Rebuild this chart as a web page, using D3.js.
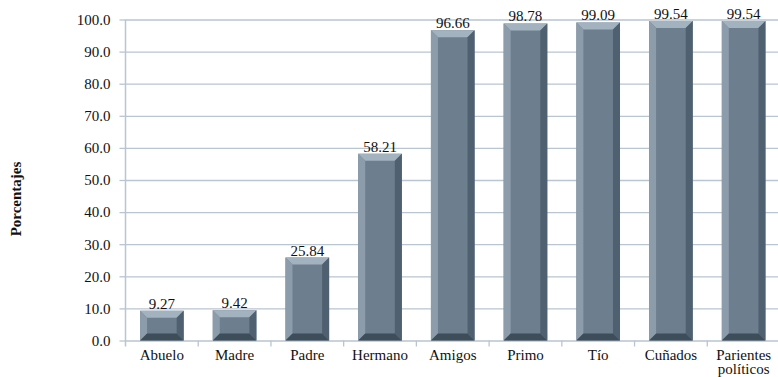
<!DOCTYPE html>
<html>
<head>
<meta charset="utf-8">
<script src="https://cdn.jsdelivr.net/npm/d3@7"></script>
<style>
  body { margin: 0; background: #fff; }
  svg text { font-family: "Liberation Serif", "Times New Roman", serif !important; fill: #111; }
</style>
</head>
<body>
<script>
// Chart data
const categories = ["Abuelo", "Madre", "Padre", "Hermano", "Amigos", "Primo", "Tío", "Cuñados", "Parientes políticos"];
const values = [9.27, 9.42, 25.84, 58.21, 96.66, 98.78, 99.09, 99.54, 99.54];
const yTicks = [0, 10, 20, 30, 40, 50, 60, 70, 80, 90, 100];
const yTitle = "Porcentajes";

// Size and padding
const width = 778;
const height = 377;
const paddingLeft = 125.5;
const paddingRight = -2;
const paddingTop = 19.5;
const paddingBottom = 36.5;

const svg = d3.select("body").append("svg")
    .attr("width", width)
    .attr("height", height)
    .attr("viewBox", [0, 0, width, height]);

// Scales
let xScale = d3.scaleBand()
    .domain(categories)
    .range([paddingLeft, width - paddingRight])
    .paddingInner(0.4)
    .paddingOuter(0.2);
let yScale = d3.scaleLinear()
    .domain([0, 100])
    .range([height - paddingBottom, paddingTop]);

const gridColor = "#b9c5d1";

// Horizontal grid lines with labels
let yAxis = d3.axisLeft(yScale)
    .tickValues(yTicks)
    .tickFormat(d3.format(".1f"))
    .tickSize(6)
    .tickPadding(9);
let yAxisRef = svg.append("g")
    .attr("transform", `translate(${paddingLeft}, 0)`)
    .call(yAxis);
yAxisRef.select(".domain").remove();
yAxisRef.selectAll(".tick line").attr("stroke", gridColor).attr("stroke-width", 1.3);
yAxisRef.selectAll(".tick line")
    .clone()
    .attr("x1", 0)
    .attr("x2", width - paddingLeft);
yAxisRef.selectAll(".tick text").style("font-size", "15px");

// Vertical axis line
svg.append("line")
    .attr("x1", paddingLeft).attr("x2", paddingLeft)
    .attr("y1", yScale(100)).attr("y2", yScale(0) + 6)
    .attr("stroke", gridColor).attr("stroke-width", 1.5);

// Category boundary ticks under the axis
const step = xScale.step();
svg.append("g")
    .selectAll("line")
    .data(categories.slice(1))
    .join("line")
    .attr("x1", d => xScale(d) - step * 0.2)
    .attr("x2", d => xScale(d) - step * 0.2)
    .attr("y1", yScale(0))
    .attr("y2", yScale(0) + 6)
    .attr("stroke", gridColor).attr("stroke-width", 1.3);

// Bevelled bars
const bev = 7;
const faces = [
    {name: "face", fill: "#6d7e8e"},
    {name: "top", fill: "#a3b2bf"},
    {name: "left", fill: "#8c9cab"},
    {name: "right", fill: "#4f6070"},
    {name: "bottom", fill: "#3e4d5a"}
];

function facePoints(name, x0, x1, y0, y1) {
    const b = Math.min(bev, (y1 - y0) / 2);
    if (name === "face") return [[x0, y0], [x1, y0], [x1, y1], [x0, y1]];
    if (name === "top") return [[x0, y0], [x1, y0], [x1 - bev, y0 + b], [x0 + bev, y0 + b]];
    if (name === "left") return [[x0, y0], [x0 + bev, y0 + b], [x0 + bev, y1 - b], [x0, y1]];
    if (name === "right") return [[x1, y0], [x1, y1], [x1 - bev, y1 - b], [x1 - bev, y0 + b]];
    return [[x0, y1], [x0 + bev, y1 - b], [x1 - bev, y1 - b], [x1, y1]];
}

const bars = svg.append("g")
    .selectAll("g")
    .data(categories.map((c, i) => ({cat: c, val: values[i]})))
    .join("g");

faces.forEach(f => {
    bars.append("polygon")
        .attr("fill", f.fill)
        .attr("points", d => {
            const x0 = xScale(d.cat);
            const x1 = x0 + xScale.bandwidth();
            return facePoints(f.name, x0, x1, yScale(d.val), yScale(0)).join(" ");
        });
});

// Value labels
bars.append("text")
    .attr("x", d => xScale(d.cat) + xScale.bandwidth() / 2)
    .attr("y", d => yScale(d.val) - 2)
    .attr("text-anchor", "middle")
    .style("font-size", "15px")
    .text(d => d3.format(".2f")(d.val));

// Category labels (wrap two-word label)
const catLabels = svg.append("g")
    .selectAll("text")
    .data(categories)
    .join("text")
    .attr("text-anchor", "middle")
    .attr("transform", d => `translate(${xScale(d) + xScale.bandwidth() / 2}, ${yScale(0) + 19.5})`)
    .style("font-size", "15px");
catLabels.each(function(d) {
    const words = d.split(" ");
    d3.select(this).selectAll("tspan")
        .data(words)
        .join("tspan")
        .attr("x", 0)
        .attr("dy", (w, i) => i === 0 ? 0 : 13.5)
        .text(w => w);
});

// Y axis title
svg.append("text")
    .attr("transform", "translate(21, 199) rotate(-90)")
    .attr("text-anchor", "middle")
    .style("font-size", "15px")
    .style("font-weight", "bold")
    .text(yTitle);
</script>
</body>
</html>
